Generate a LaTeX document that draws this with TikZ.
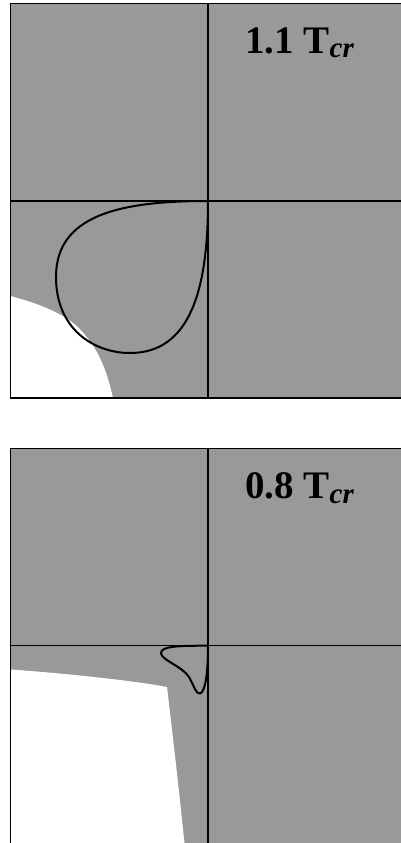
\documentclass[tikz,border=0pt]{standalone}
\usepackage{fontspec}
\setmainfont{Liberation Serif}
\definecolor{fillgray}{HTML}{999999}
\tikzset{
  frame/.style={draw=black, line width=1.6pt},
  axis/.style={draw=black, line width=1.5pt},
  curve/.style={draw=black, line width=2pt},
  lbl/.style={anchor=base west, inner sep=0pt, font=\fontsize{39}{40}\selectfont\bfseries},
}
\newcommand{\crsub}{{\fontsize{29}{29}\selectfont\bfseries\itshape\raisebox{-5pt}{cr}}}
\begin{document}
\begin{tikzpicture}[x=1pt,y=-1pt]
\useasboundingbox (0,0) rectangle (401,843);
\fill[white] (0,0) rectangle (401,843);
\clip (0,0) rectangle (401,843);
% ---------- top panel ----------
\fill[fillgray] (10.5,3.5) rectangle (406,398);
\fill[white] (10.5,296) .. controls (40,304) and (70,315) .. (85,335)
  .. controls (100,352) and (108,375) .. (113,398) -- (10.5,398) -- cycle;
\draw[axis] (208,3.5) -- (208,398);
\draw[axis] (10.5,201) -- (406,201);
\draw[curve] (208,201) .. controls (120,201) and (56,215) .. (56,277)
  .. controls (56,330) and (95,353) .. (130,353)
  .. controls (190,353) and (208,290) .. (208,201);
\draw[frame] (406,3.5) -- (10.5,3.5) -- (10.5,398) -- (406,398);
\node[lbl] (t1) at (245,53) {1.1 T\crsub};
% ---------- bottom panel ----------
\fill[fillgray] (10.5,448.5) rectangle (406,843.5);
\fill[white] (10.5,669.5) .. controls (60,673) and (130,680) .. (167,687)
  .. controls (172,730) and (178,780) .. (184.5,843.5) -- (10.5,843.5) -- cycle;
\draw[axis] (208,448.5) -- (208,843.5);
\draw[axis] (10.5,645.7) -- (406,645.7);
\draw[curve] (208,645.7) .. controls (180,645.7) and (161,646) .. (161,653)
  .. controls (161,660) and (182,666) .. (189,677)
  .. controls (195,688) and (196,694) .. (200,693.5)
  .. controls (205,692) and (208,675) .. (208,645.7);
\draw[frame] (406,448.5) -- (10.5,448.5) -- (10.5,843.5) -- (406,843.5);
\node[lbl] (t2) at (245,498) {0.8 T\crsub};
\end{tikzpicture}
\end{document}
